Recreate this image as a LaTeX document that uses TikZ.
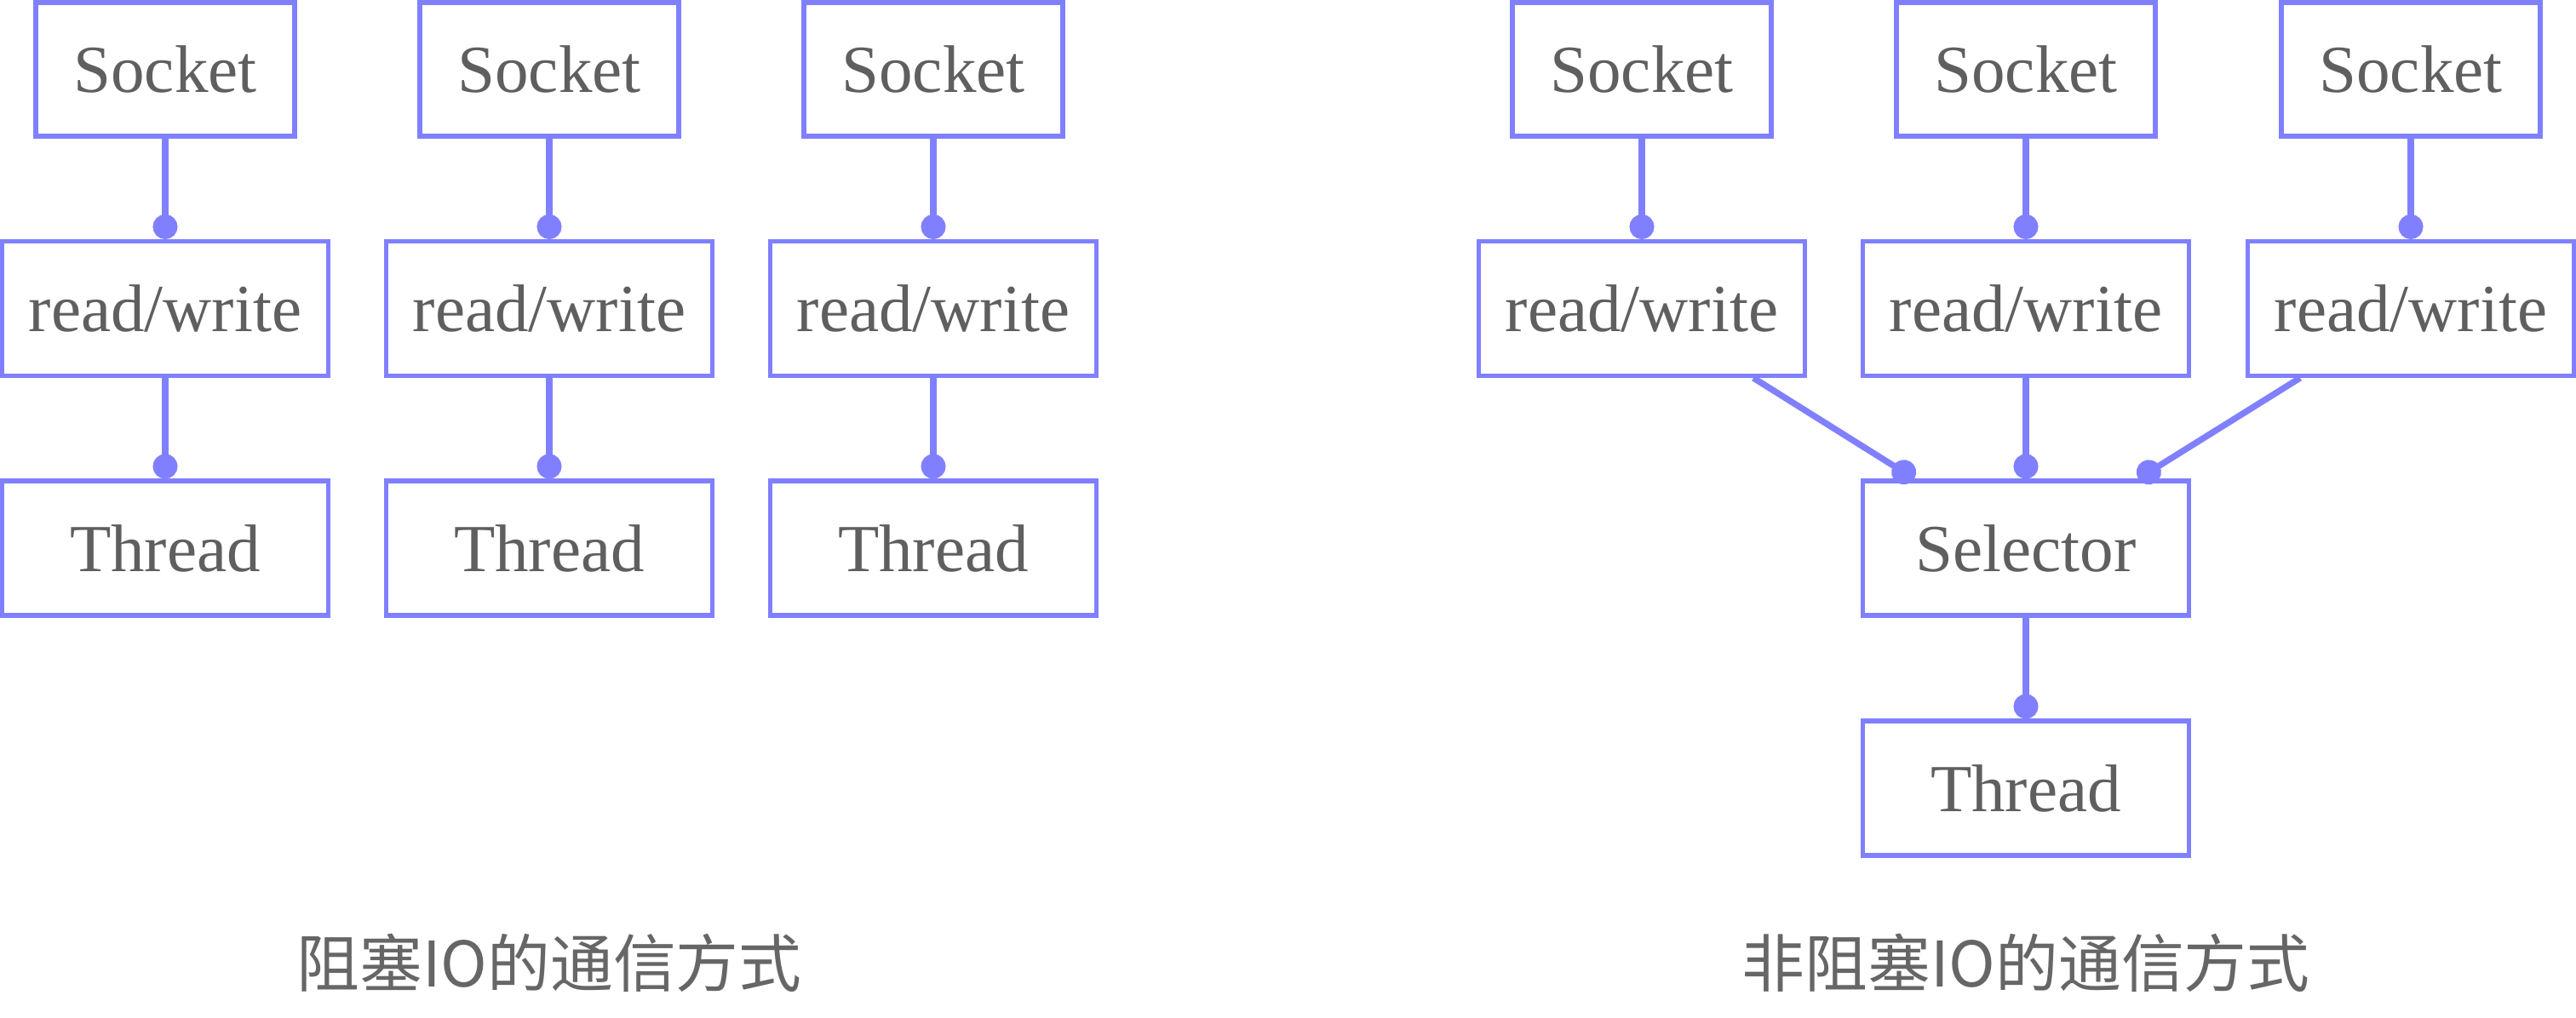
\documentclass[tikz,border=0pt]{standalone}
\usepackage{fontspec}
\setmainfont{Liberation Serif}
\newfontfamily\cjk{Noto Sans CJK SC}
\usetikzlibrary{arrows.meta,calc,positioning}
\definecolor{Edge}{HTML}{8080FF}
\definecolor{Ink}{HTML}{5F5F5F}
\definecolor{Caption}{HTML}{666666}

\begin{document}
\begin{tikzpicture}[
    box/.style={draw=Edge,line width=1.45pt,inner sep=0pt,text=Ink,
      font=\fontsize{22.5}{26}\selectfont,minimum width=3.83cm,minimum height=1.58cm},
    sockbox/.style={box,minimum width=3.04cm,minimum height=1.57cm},
    wire/.style={Edge,line width=2.1pt,-{Circle[length=2.9mm]}},
    caption/.style={text=Caption,font=\cjk\fontsize{21}{25}\selectfont}
  ]
        \useasboundingbox (0,0) rectangle (30.25,-11.96);
        % blocking IO: one thread per socket
        \foreach \i/\x in {1/1.94,2/6.45,3/10.96}{
          \node[sockbox] (sock\i) at (\x,-0.815) {Socket};
          \node[box] (rw\i) at (\x,-3.625) {read/write};
          \node[box] (thr\i) at (\x,-6.44) {Thread};
          \draw[wire] (sock\i) -- (rw\i);
          \draw[wire] (rw\i) -- (thr\i);
        }
        \node[caption] (capA) at (6.45,-11.31) {阻塞IO的通信方式};
        % non-blocking IO: one selector, one thread
        \foreach \i/\x in {4/19.28,5/23.79,6/28.31}{
          \node[sockbox] (sock\i) at (\x,-0.815) {Socket};
          \node[box] (rw\i) at (\x,-3.625) {read/write};
          \draw[wire] (sock\i) -- (rw\i);
        }
        \node[box] (sel) at (23.79,-6.44) {Selector};
        \node[box] (thr4) at (23.79,-9.26) {Thread};
        \draw[wire] ([xshift=-0.63cm]rw4.south east) -- ([xshift=0.63cm]sel.north west);
        \draw[wire] (rw5) -- (sel);
        \draw[wire] ([xshift=0.64cm]rw6.south west) -- ([xshift=-0.62cm]sel.north east);
        \draw[wire] (sel) -- (thr4);
        \node[caption] (capB) at (23.79,-11.31) {非阻塞IO的通信方式};
      \end{tikzpicture}
\end{document}
